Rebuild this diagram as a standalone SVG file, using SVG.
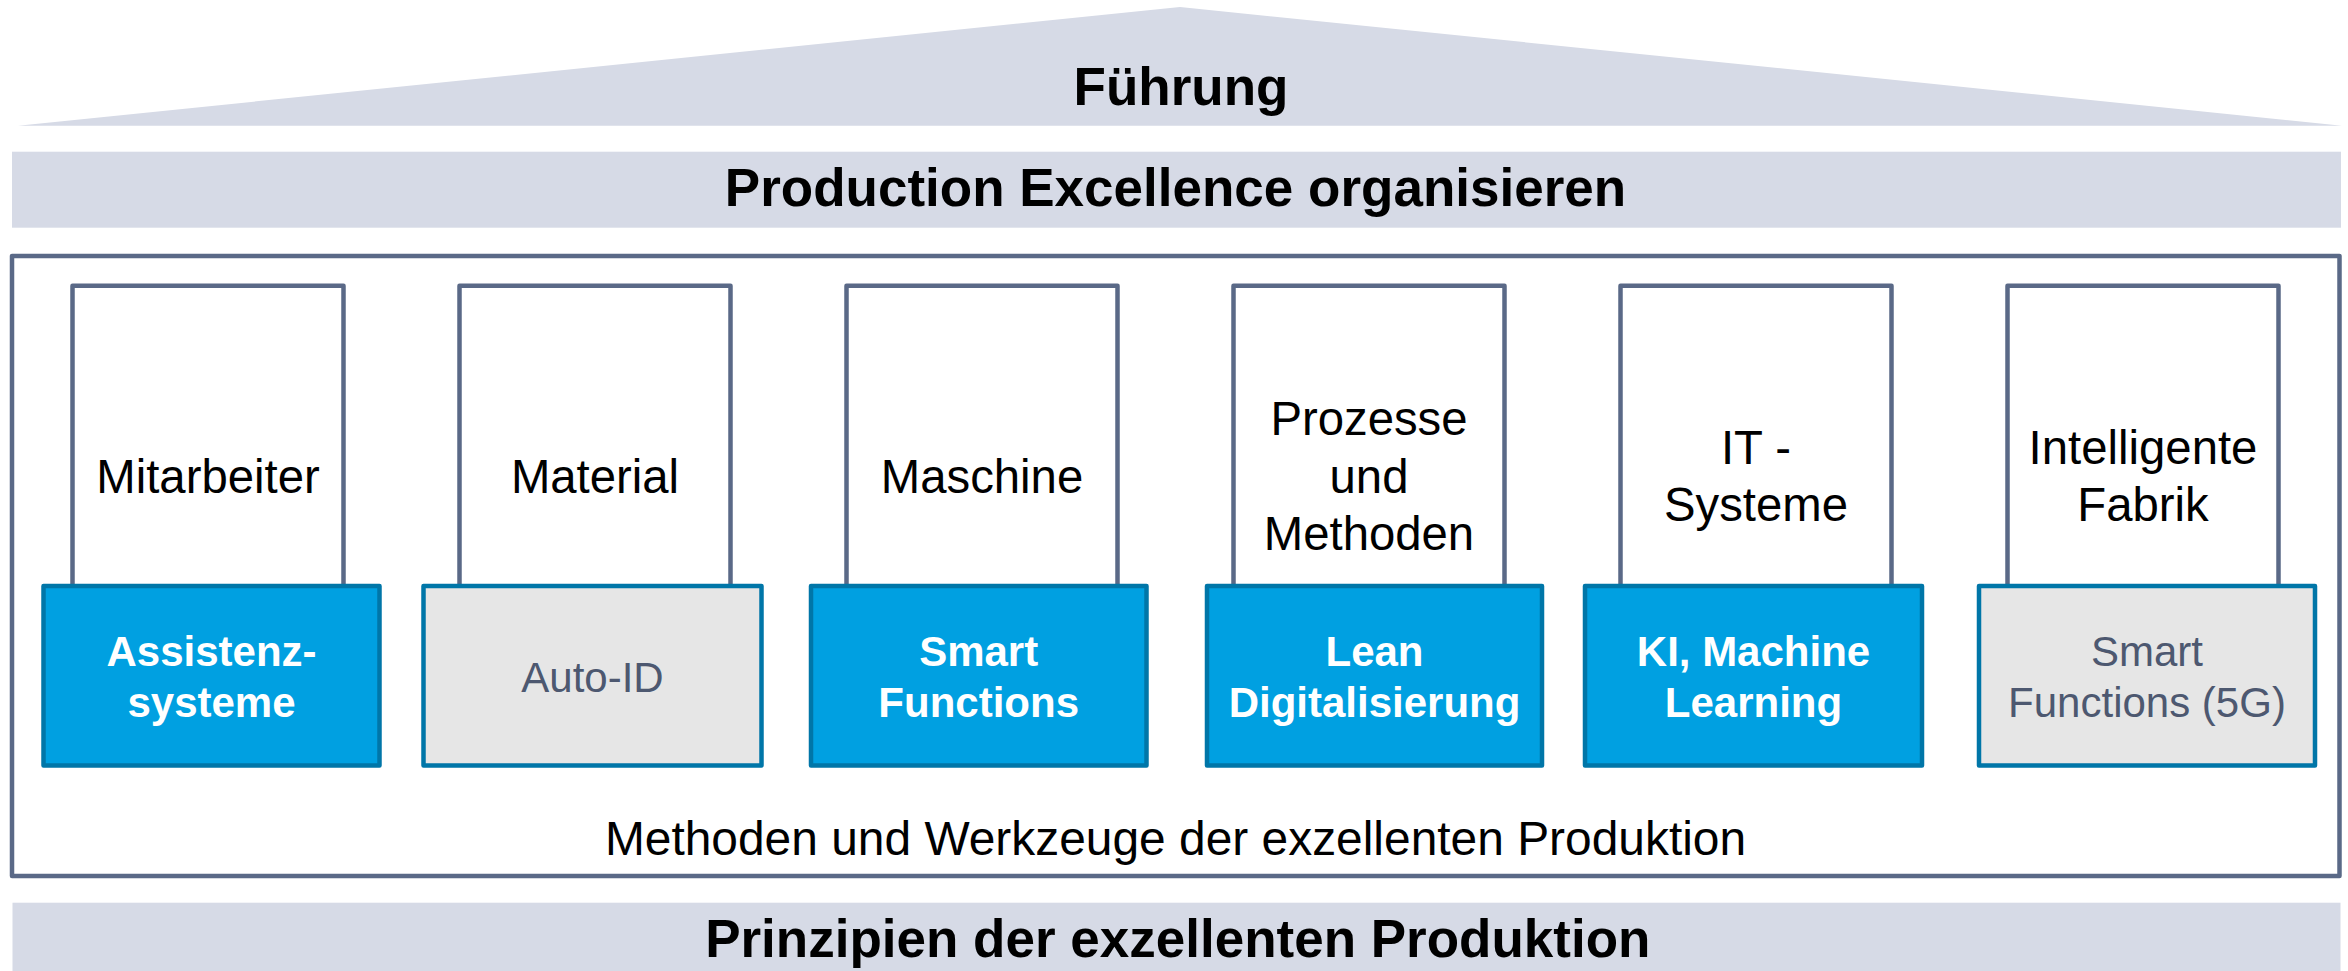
<svg xmlns="http://www.w3.org/2000/svg" width="2348" height="971" viewBox="0 0 2348 971">
  <style>
    .band { fill: #D6DAE6; }
    .head { font-family: "Liberation Sans", Arial, sans-serif; font-weight: bold; font-size: 53px; fill: #000; text-anchor: middle; }
    .frame { fill: #FFFFFF; stroke: #5A6987; stroke-width: 4.5; stroke-linejoin: round; }
    .col { fill: #FFFFFF; stroke: #5A6987; stroke-width: 4.5; stroke-linejoin: round; }
    .collbl { font-family: "Liberation Sans", Arial, sans-serif; font-size: 47.3px; fill: #000; text-anchor: middle; }
    .bluebox { fill: #00A0E1; stroke: #0076A8; stroke-width: 4.5; stroke-linejoin: round; }
    .graybox { fill: #E6E6E6; stroke: #0076A8; stroke-width: 4.5; stroke-linejoin: round; }
    .bluetxt { font-family: "Liberation Sans", Arial, sans-serif; font-weight: bold; font-size: 42px; fill: #FFFFFF; text-anchor: middle; }
    .graytxt { font-family: "Liberation Sans", Arial, sans-serif; font-size: 42px; fill: #4D5870; text-anchor: middle; }
    .base { font-family: "Liberation Sans", Arial, sans-serif; font-size: 47.9px; fill: #000; text-anchor: middle; }
  </style>

  <g id="roof">
    <polygon class="band" points="18,125.7 1180,7 2342,125.7"/>
    <text class="head" x="1181" y="104.5" font-size="52">Führung</text>
  </g>

  <g id="organize">
    <rect class="band" x="12" y="151.7" width="2329" height="76"/>
    <text class="head" x="1175.5" y="206">Production Excellence organisieren</text>
  </g>

  <g id="frame">
    <rect class="frame" x="12" y="256" width="2327.5" height="620"/>
    <text class="base" x="1175.5" y="855">Methoden und Werkzeuge der exzellenten Produktion</text>
  </g>

  <g id="pillar-mitarbeiter">
    <rect class="col" x="72.5" y="285.8" width="271" height="310"/>
    <text class="collbl" x="208" y="492.5">Mitarbeiter</text>
    <rect class="bluebox" x="43.5" y="586" width="336" height="179.5"/>
    <text class="bluetxt" x="211.5" y="665.7">Assistenz-</text>
    <text class="bluetxt" x="211.5" y="716.5">systeme</text>
  </g>

  <g id="pillar-material">
    <rect class="col" x="459.5" y="285.8" width="271" height="310"/>
    <text class="collbl" x="595" y="492.5">Material</text>
    <rect class="graybox" x="423.5" y="586" width="338" height="179.5"/>
    <text class="graytxt" x="592.5" y="691.7">Auto-ID</text>
  </g>

  <g id="pillar-maschine">
    <rect class="col" x="846.5" y="285.8" width="271" height="310"/>
    <text class="collbl" x="982" y="492.5">Maschine</text>
    <rect class="bluebox" x="811" y="586" width="335.5" height="179.5"/>
    <text class="bluetxt" x="978.7" y="665.7">Smart</text>
    <text class="bluetxt" x="978.7" y="716.5">Functions</text>
  </g>

  <g id="pillar-prozesse">
    <rect class="col" x="1233.5" y="285.8" width="271" height="310"/>
    <text class="collbl" x="1369" y="435">Prozesse</text>
    <text class="collbl" x="1369" y="492.5">und</text>
    <text class="collbl" x="1369" y="549.8">Methoden</text>
    <rect class="bluebox" x="1207" y="586" width="335" height="179.5"/>
    <text class="bluetxt" x="1374.5" y="665.7">Lean</text>
    <text class="bluetxt" x="1374.5" y="716.5">Digitalisierung</text>
  </g>

  <g id="pillar-it">
    <rect class="col" x="1620.5" y="285.8" width="271" height="310"/>
    <text class="collbl" x="1756" y="464">IT -</text>
    <text class="collbl" x="1756" y="521">Systeme</text>
    <rect class="bluebox" x="1585" y="586" width="337" height="179.5"/>
    <text class="bluetxt" x="1753.5" y="665.7">KI, Machine</text>
    <text class="bluetxt" x="1753.5" y="716.5">Learning</text>
  </g>

  <g id="pillar-fabrik">
    <rect class="col" x="2007.5" y="285.8" width="271" height="310"/>
    <text class="collbl" x="2143" y="464">Intelligente</text>
    <text class="collbl" x="2143" y="521">Fabrik</text>
    <rect class="graybox" x="1979" y="586" width="336" height="179.5"/>
    <text class="graytxt" x="2147" y="665.7">Smart</text>
    <text class="graytxt" x="2147" y="716.5">Functions (5G)</text>
  </g>

  <g id="foundation">
    <rect class="band" x="12.5" y="902.7" width="2328" height="68.3"/>
    <text class="head" x="1177.8" y="956.7">Prinzipien der exzellenten Produktion</text>
  </g>

  <g id="connectors"></g>
</svg>
